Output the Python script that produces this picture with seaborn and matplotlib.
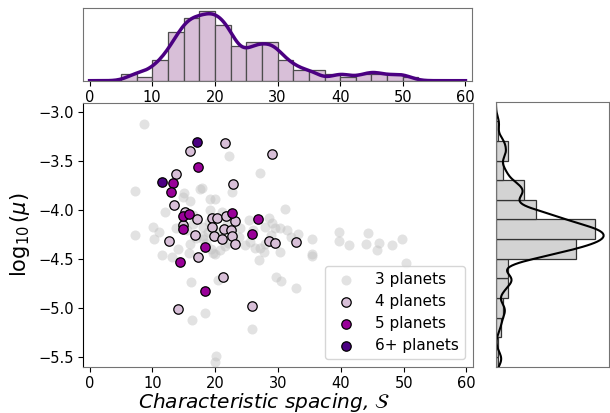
import numpy as np
import pandas as pd
import seaborn as sns
import matplotlib
matplotlib.use("Agg")
import matplotlib.pyplot as plt

# spacing S and log10(mu), one list pair per multiplicity
s_3 = [8.7, 22.2, 27.1, 7.3, 15.1, 17.6, 17.9, 22.6, 14.9, 16.0, 19.2, 20.0,
       12.0, 19.2, 31.1, 10.1, 18.1, 7.3, 10.3, 18.1, 25.4, 28.6, 28.0, 29.5,
       30.3, 24.0, 33.2, 32.1, 35.4, 39.7, 39.7, 41.3, 44.4, 44.0, 46.1, 45.8,
       48.1, 49.7, 50.3, 11.5, 13.1, 19.7, 19.9, 21.6, 24.8, 26.3, 27.8, 27.0,
       30.3, 35.4, 35.4, 16.2, 20.5, 29.7, 30.4, 32.9, 18.3, 16.3, 25.9, 20.1,
       19.9, 27.1,
       # hidden behind the coloured markers
       16.5, 21.0, 15.5, 16.4, 17.0, 18.8, 19.0, 20.6, 21.9, 26.0, 28.9, 29.0,
       11.0, 13.8, 23.8, 31.5, 18.0, 16.0, 15.8, 18.6, 19.3, 20.8, 22.0, 25.5,
       27.9, 14.0]
mu_3 = [-3.12, -3.45, -3.62, -3.80, -3.82, -3.78, -3.77, -3.81, -3.86, -3.91, -3.88, -3.88,
        -4.02, -4.00, -3.99, -4.17, -4.17, -4.25, -4.29, -4.29, -4.10, -4.08, -4.17, -4.18,
        -4.18, -4.18, -4.24, -4.27, -4.29, -4.22, -4.31, -4.36, -4.23, -4.34, -4.33, -4.41,
        -4.36, -4.29, -4.54, -4.46, -4.48, -4.44, -4.45, -4.37, -4.36, -4.39, -4.43, -4.51,
        -4.43, -4.45, -4.47, -4.73, -4.71, -4.68, -4.72, -4.80, -5.05, -5.12, -5.21, -5.49,
        -5.55, -4.39,
        -4.05, -4.02, -4.20, -4.14, -4.28, -4.22, -4.12, -4.22, -4.14, -4.20, -4.25, -4.13,
        -4.22, -4.18, -4.27, -4.20, -4.26, -4.35, -4.44, -4.33, -4.40, -4.41, -4.33, -4.32,
        -4.35, -4.40]

s_4 = [21.6, 29.1, 16.0, 13.8, 22.9, 13.5, 15.2, 17.1, 19.5, 20.3, 21.7, 23.2,
       14.9, 19.5, 21.4, 22.5, 16.8, 19.8, 22.6, 12.7, 21.0, 23.1, 28.6, 29.5,
       32.9, 17.2, 21.3, 14.0, 25.8]
mu_4 = [-3.31, -3.42, -3.39, -3.63, -3.73, -3.95, -4.02, -4.09, -4.08, -4.08, -4.06, -4.11,
        -4.15, -4.17, -4.19, -4.20, -4.25, -4.26, -4.26, -4.31, -4.29, -4.34, -4.31, -4.33,
        -4.32, -4.48, -4.68, -5.01, -4.98]

s_5 = [17.3, 13.2, 12.9, 14.9, 15.9, 14.8, 22.6, 26.8, 25.8, 18.4, 14.4, 18.4]
mu_5 = [-3.56, -3.72, -3.81, -4.06, -4.04, -4.19, -4.03, -4.09, -4.24, -4.38, -4.53, -4.83]

s_6 = [17.1, 11.5]
mu_6 = [-3.30, -3.71]

labels = ["3 planets", "4 planets", "5 planets", "6+ planets"]

all_s = np.array(s_3 + s_4 + s_5 + s_6)
all_mu = np.array(mu_3 + mu_4 + mu_5 + mu_6)

fig = plt.figure(figsize=(6.1, 4.13), dpi=100)
ax = fig.add_axes([0.1366, 0.1121, 0.6384, 0.6392])
ax_top = fig.add_axes([0.1366, 0.8046, 0.6367, 0.1772])
ax_right = fig.add_axes([0.8131, 0.1121, 0.1852, 0.6416])

sns.scatterplot(x=s_3, y=mu_3, color="silver", alpha=0.45, s=52, linewidth=0,
                label=labels[0], ax=ax)
sns.scatterplot(x=s_4, y=mu_4, color="thistle", edgecolor="black", linewidth=0.9,
                s=46, label=labels[1], ax=ax)
sns.scatterplot(x=s_5, y=mu_5, color="#990099", edgecolor="black", linewidth=0.9,
                s=46, label=labels[2], ax=ax)
sns.scatterplot(x=s_6, y=mu_6, color="indigo", edgecolor="black", linewidth=0.9,
                s=46, label=labels[3], ax=ax)

ax.set_xlim(-1, 61)
ax.set_ylim(-5.6, -2.9)
ax.set_xticks(range(0, 61, 10))
ax.set_yticks([-3.0, -3.5, -4.0, -4.5, -5.0, -5.5])
ax.tick_params(labelsize=10.5)
ax.set_xlabel(r"Characteristic spacing, $\mathcal{S}$", fontsize=14.5, fontstyle="italic")
ax.xaxis.set_label_coords(0.465, -0.093)
ax.set_ylabel(r"$\log_{10}(\mu)$", fontsize=15, labelpad=4)
for side in ["top", "right", "bottom"]:
    ax.spines[side].set_color("0.45")
ax.legend(loc="lower right", fontsize=11, handletextpad=0.9, borderpad=0.4,
          labelspacing=0.45)

# marginal distributions
s_edges = np.arange(5, 52.6, 2.5)
sns.histplot(x=all_s, bins=s_edges, kde=True, facecolor="thistle", edgecolor="0.3",
             alpha=1, linewidth=0.9, kde_kws=dict(bw_adjust=0.45, cut=10, clip=(0, 60)),
             ax=ax_top)
ax_top.lines[0].set_color("indigo")
ax_top.lines[0].set_linewidth(2.5)
ax_top.set_xlim(-1, 61)
ax_top.set_xticks(range(0, 61, 10))
ax_top.set_yticks([])
ax_top.set_ylabel("")
ax_top.tick_params(labelsize=10.5)

mu_edges = np.arange(-5.7, -3.09, 0.2)
sns.histplot(y=all_mu, bins=mu_edges, kde=True, facecolor="lightgray", edgecolor="0.2",
             alpha=1, linewidth=0.9, kde_kws=dict(bw_adjust=0.45, cut=10, clip=(-5.6, -2.9)),
             ax=ax_right)
ax_right.lines[0].set_color("black")
ax_right.lines[0].set_linewidth(1.5)
ax_right.set_ylim(-5.6, -2.9)
ax_right.set_xticks([])
ax_right.set_yticks([])
ax_right.set_xlabel("")

for a in [ax_top, ax_right]:
    for sp in a.spines.values():
        sp.set_color("0.45")

fig.savefig("out.png", dpi=100)
